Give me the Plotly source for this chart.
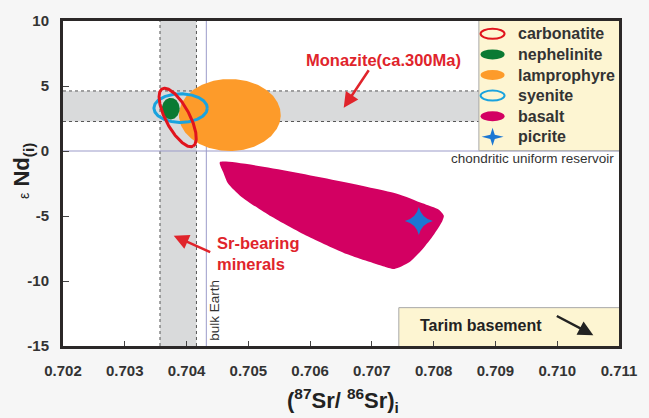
import numpy as np
import plotly.graph_objects as go

# ---- data: initial 87Sr/86Sr vs eps Nd(i) fields ----
x_range = [0.702, 0.711]
y_range = [-15, 10]
x_tickvals = [0.702, 0.703, 0.704, 0.705, 0.706, 0.707, 0.708, 0.709, 0.710, 0.711]
x_ticktext = ["0.702", "0.703", "0.704", "0.705", "0.706", "0.707", "0.708", "0.709", "0.710", "0.711"]
y_tickvals = [-15, -10, -5, 0, 5, 10]
y_ticktext = ["-15", "-10", "-5", "0", "5", "10"]

# ellipse fields: centre (Sr, Nd) and semi-axes (Sr, Nd)
lamprophyre_centre = [0.70470, 2.77]
lamprophyre_radii = [0.000824, 2.77]
nephelinite_centre = [0.703744, 3.26]
nephelinite_radii = [0.000144, 0.83]
syenite_centre = [0.703904, 3.30]
syenite_radii = [0.000432, 1.10]
# tilted carbonatite field: centre plus its two semi-axis vectors
carbonatite_centre = [0.703856, 2.58]
carbonatite_major = [0.000248, -2.21]
carbonatite_minor = [0.000170, 0.43]

# basalt field outline
basalt_sr = [0.704539, 0.707392, 0.707819, 0.708085, 0.708165, 0.708139, 0.708005,
             0.707819, 0.707605, 0.707365, 0.707179, 0.706592, 0.705952, 0.705365,
             0.704885, 0.704672, 0.704592, 0.704539]
basalt_nd = [-0.86, -3.26, -4.02, -4.52, -4.98, -5.40, -6.42,
             -7.55, -8.56, -9.07, -8.86, -7.93, -6.54, -5.02,
             -3.51, -2.50, -1.61, -0.86]

picrite_sr = [0.70776]
picrite_nd = [-5.38]

# reference values
sr_band = [0.70357, 0.70416]       # Sr-bearing minerals
nd_band = [2.27, 4.62]             # monazite (ca. 300 Ma)
bulk_earth_sr = 0.70432
chur_nd = 0.0

legend_names = ["carbonatite", "nephelinite", "lamprophyre", "syenite", "basalt", "picrite"]

RED = "#e0141d"
GREEN = "#0b7a33"
ORANGE = "#fd9b2a"
CYAN = "#1aa3de"
MAGENTA = "#d30062"
BLUE = "#1b77d3"
TXT = "#333333"
FONT = "Liberation Sans"

t = np.linspace(0, 2 * np.pi, 200)


def ellipse(c, r):
    return c[0] + r[0] * np.cos(t), c[1] + r[1] * np.sin(t)


def tilted(c, a, b):
    return (c[0] + a[0] * np.cos(t) + b[0] * np.sin(t),
            c[1] + a[1] * np.cos(t) + b[1] * np.sin(t))


def fx(f):
    """fraction of the x axis -> Sr value"""
    return x_range[0] + f * (x_range[1] - x_range[0])


def fy(f):
    """fraction of the y axis -> eps Nd value"""
    return y_range[0] + f * (y_range[1] - y_range[0])


fig = go.Figure()

lx, ly = ellipse(lamprophyre_centre, lamprophyre_radii)
fig.add_trace(go.Scatter(x=lx, y=ly, mode="lines", fill="toself", fillcolor=ORANGE,
                         line=dict(width=0, color=ORANGE), hoverinfo="skip"))

fig.add_trace(go.Scatter(x=basalt_sr, y=basalt_nd, mode="lines", fill="toself",
                         fillcolor=MAGENTA, line=dict(width=0, color=MAGENTA, shape="spline", smoothing=0.6),
                         hoverinfo="skip"))

sx, sy = ellipse(syenite_centre, syenite_radii)
fig.add_trace(go.Scatter(x=sx, y=sy, mode="lines", line=dict(width=3, color=CYAN), hoverinfo="skip"))

nx, ny = ellipse(nephelinite_centre, nephelinite_radii)
fig.add_trace(go.Scatter(x=nx, y=ny, mode="lines", fill="toself", fillcolor=GREEN,
                         line=dict(width=0, color=GREEN), hoverinfo="skip"))

cx, cy = tilted(carbonatite_centre, carbonatite_major, carbonatite_minor)
fig.add_trace(go.Scatter(x=cx, y=cy, mode="lines", line=dict(width=3, color=RED), hoverinfo="skip"))

fig.add_trace(go.Scatter(x=picrite_sr, y=picrite_nd, mode="markers",
                         marker=dict(symbol="star-diamond", size=20, color=BLUE,
                                     line=dict(width=0)), hoverinfo="skip"))

# ---- background bands and reference lines ----
band_fill = "#d9dadb"
dot = dict(color="#555555", width=1, dash="dot")
shapes = [
    dict(type="rect", xref="x", yref="y", x0=x_range[0], x1=x_range[1], y0=nd_band[0], y1=nd_band[1],
         fillcolor=band_fill, line=dict(width=0), layer="below"),
    dict(type="rect", xref="x", yref="y", x0=sr_band[0], x1=sr_band[1], y0=y_range[0], y1=y_range[1],
         fillcolor=band_fill, line=dict(width=0), layer="below"),
    dict(type="line", xref="x", yref="y", x0=x_range[0], x1=x_range[1], y0=nd_band[0], y1=nd_band[0], line=dot, layer="below"),
    dict(type="line", xref="x", yref="y", x0=x_range[0], x1=x_range[1], y0=nd_band[1], y1=nd_band[1], line=dot, layer="below"),
    dict(type="line", xref="x", yref="y", x0=sr_band[0], x1=sr_band[0], y0=y_range[0], y1=y_range[1], line=dot, layer="below"),
    dict(type="line", xref="x", yref="y", x0=sr_band[1], x1=sr_band[1], y0=y_range[0], y1=y_range[1], line=dot, layer="below"),
    dict(type="line", xref="x", yref="y", x0=bulk_earth_sr, x1=bulk_earth_sr, y0=y_range[0], y1=y_range[1],
         line=dict(color="#9b9bc9", width=1), layer="below"),
    dict(type="line", xref="x", yref="y", x0=x_range[0], x1=x_range[1], y0=chur_nd, y1=chur_nd,
         line=dict(color="#9b9bc9", width=1), layer="below"),
]

# legend panel and Tarim basement panel
legend_fill = "#fdf5d2"
panel_line = dict(color="#a8a8a8", width=1)
shapes += [
    dict(type="rect", xref="x", yref="y", x0=fx(0.748), x1=fx(1.0), y0=fy(0.601), y1=fy(1.0),
         fillcolor=legend_fill, line=dict(width=0), layer="below"),
    dict(type="line", xref="x", yref="y", x0=fx(0.748), x1=fx(0.748), y0=fy(0.601), y1=fy(1.0),
         line=panel_line, layer="below"),
    dict(type="line", xref="x", yref="y", x0=fx(0.748), x1=fx(1.0), y0=fy(0.601), y1=fy(0.601),
         line=panel_line, layer="below"),
    dict(type="rect", xref="x", yref="y", x0=fx(0.604), x1=fx(1.0), y0=fy(0.0), y1=fy(0.118),
         fillcolor=legend_fill, line=dict(width=0), layer="below"),
    dict(type="line", xref="x", yref="y", x0=fx(0.604), x1=fx(0.604), y0=fy(0.0), y1=fy(0.118),
         line=panel_line, layer="below"),
    dict(type="line", xref="x", yref="y", x0=fx(0.604), x1=fx(1.0), y0=fy(0.118), y1=fy(0.118),
         line=panel_line, layer="below"),
]

leg_x = 0.7726
leg_rows = [0.9607, 0.8973, 0.8338, 0.7704, 0.7069, 0.6435]
leg_style = [
    dict(fillcolor="rgba(0,0,0,0)", line=dict(color=RED, width=2)),
    dict(fillcolor=GREEN, line=dict(width=0)),
    dict(fillcolor=ORANGE, line=dict(width=0)),
    dict(fillcolor="rgba(0,0,0,0)", line=dict(color=CYAN, width=2)),
    dict(fillcolor=MAGENTA, line=dict(width=0)),
]
for yy, st in zip(leg_rows[:5], leg_style):
    shapes.append(dict(type="circle", xref="x", yref="y", xsizemode="pixel", ysizemode="pixel",
                       xanchor=fx(leg_x), yanchor=fy(yy), x0=-12, x1=12, y0=-5, y1=5, layer="below", **st))
shapes.append(dict(type="path", xref="x", yref="y", xsizemode="pixel", ysizemode="pixel",
                   xanchor=fx(leg_x), yanchor=fy(leg_rows[5]),
                   path="M 0 9 L 2.2 2.2 L 11 0 L 2.2 -2.2 L 0 -9 L -2.2 -2.2 L -11 0 L -2.2 2.2 Z",
                   fillcolor=BLUE, line=dict(width=0), layer="below"))

annotations = []
for name, yy in zip(legend_names, leg_rows):
    annotations.append(dict(xref="paper", yref="paper", x=0.815, y=yy, xanchor="left", yanchor="middle",
                            text=name, showarrow=False,
                            font=dict(family=FONT, size=16, color=TXT, weight="bold")))

annotations += [
    dict(xref="paper", yref="paper", x=0.9947, y=0.577, xanchor="right", yanchor="middle",
         text="chondritic uniform reservoir", showarrow=False,
         font=dict(family=FONT, size=13.5, color=TXT)),
    dict(xref="paper", yref="paper", x=0.2718, y=0.109, xanchor="center", yanchor="middle",
         text="bulk Earth", textangle=-90, showarrow=False,
         font=dict(family=FONT, size=13.5, color=TXT)),
    dict(xref="paper", yref="paper", x=0.7513, y=0.0634, xanchor="center", yanchor="middle",
         text="Tarim basement", showarrow=False,
         font=dict(family=FONT, size=16, color="#222222", weight="bold")),
    dict(xref="paper", yref="paper", x=0.9538, y=0.0332, ax=-38, ay=-20, text="", showarrow=True,
         arrowhead=2, arrowsize=1.2, arrowwidth=2.5, arrowcolor="#222222"),
    dict(xref="paper", yref="paper", x=0.5773, y=0.8792, xanchor="center", yanchor="middle",
         text="Monazite(ca.300Ma)", showarrow=False,
         font=dict(family=FONT, size=16.5, color="#e0242b", weight="bold")),
    dict(xref="x", yref="y", x=0.706544, y=3.33, ax=26, ay=-39, text="", showarrow=True,
         arrowhead=2, arrowsize=1.2, arrowwidth=2.5, arrowcolor="#e0242b"),
    dict(xref="paper", yref="paper", x=0.2735, y=0.284, xanchor="left", yanchor="middle", align="left",
         text="Sr-bearing<br>minerals", showarrow=False,
         font=dict(family=FONT, size=16.5, color="#e0242b", weight="bold")),
    dict(xref="x", yref="y", x=0.703792, y=-6.52, ax=38, ay=17, text="", showarrow=True,
         arrowhead=2, arrowsize=1.2, arrowwidth=2.5, arrowcolor="#e0242b"),
    # axis titles
    dict(xref="paper", yref="paper", x=0.504, y=-0.169, xanchor="center", yanchor="middle",
         text="(<sup>87</sup>Sr/ <sup>86</sup>Sr)<sub>i</sub>", showarrow=False,
         font=dict(family=FONT, size=22, color="#222222", weight="bold")),
    dict(xref="paper", yref="paper", x=-0.073, y=0.54, xanchor="center", yanchor="middle", textangle=-90,
         text="<span style='font-size:14px;font-weight:normal'>ε</span> Nd<sub>(i)</sub>", showarrow=False,
         font=dict(family=FONT, size=22, color="#222222", weight="bold")),
]

tickfont = dict(family=FONT, size=15, color=TXT, weight="bold")
fig.update_layout(
    width=649, height=418,
    margin=dict(l=63, r=23, t=15, b=72),
    paper_bgcolor="#f6f6f6",
    plot_bgcolor="#ffffff",
    showlegend=False,
    shapes=shapes,
    annotations=annotations,
    xaxis=dict(range=x_range, tickvals=x_tickvals, ticktext=x_ticktext, showgrid=False, zeroline=False,
               ticks="inside", ticklen=5, tickwidth=1, tickcolor="#444444",
               showline=True, linewidth=3, linecolor="#2b2828", mirror=True,
               tickfont=tickfont, ticklabelstandoff=9),
    yaxis=dict(range=y_range, tickvals=y_tickvals, ticktext=y_ticktext, showgrid=False, zeroline=False,
               ticks="inside", ticklen=6, tickwidth=1, tickcolor="#444444",
               showline=True, linewidth=3, linecolor="#2b2828", mirror=True,
               tickfont=tickfont, ticklabelstandoff=8),
)

fig.write_html("out.html")
